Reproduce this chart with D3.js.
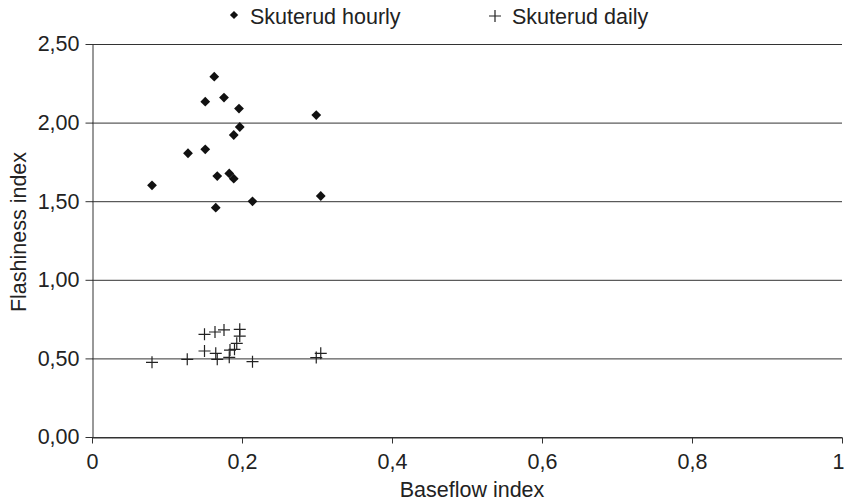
<!DOCTYPE html>
<html>
<head>
<meta charset="utf-8">
<script src="https://cdn.jsdelivr.net/npm/d3@7"></script>
<style>
  body { margin: 0; background: #fff; }
  text { font-family: "Liberation Sans", Arial, sans-serif; fill: #222; }
</style>
</head>
<body>
<div id="chart"></div>
<script>
// Skuterud: flashiness vs baseflow index

var seriesNames = ["Skuterud hourly", "Skuterud daily"];

// hourly values
var hourlyBfi = [0.080, 0.128, 0.151, 0.151, 0.163, 0.165, 0.167, 0.176, 0.183, 0.189, 0.189, 0.196, 0.197, 0.214, 0.299, 0.305];
var hourlyFi  = [1.601, 1.805, 2.133, 1.830, 2.292, 1.459, 1.660, 2.159, 1.677, 1.921, 1.643, 2.089, 1.972, 1.499, 2.048, 1.533];

// daily values
var dailyBfi = [0.080, 0.127, 0.150, 0.150, 0.164, 0.165, 0.167, 0.176, 0.183, 0.184, 0.190, 0.193, 0.197, 0.197, 0.214, 0.299, 0.305];
var dailyFi  = [0.475, 0.494, 0.653, 0.547, 0.668, 0.532, 0.494, 0.681, 0.507, 0.553, 0.558, 0.596, 0.685, 0.642, 0.479, 0.505, 0.532];

var xTicks = [0, 0.2, 0.4, 0.6, 0.8, 1];
var yTicks = [0, 0.5, 1, 1.5, 2, 2.5];

var svgWidth = 844, svgHeight = 504;
var margin = {top: 44, right: 2, bottom: 67, left: 92};
var width = svgWidth - margin.left - margin.right;
var height = svgHeight - margin.top - margin.bottom;
var fontSize = 21.5;

var svg = d3.select("#chart").append("svg")
  .attr("width", svgWidth)
  .attr("height", svgHeight);

var chartGroup = svg.append("g")
  .attr("transform", `translate(${margin.left}, ${margin.top})`);

var x = d3.scaleLinear().domain([0, 1]).range([0, width]);
var y = d3.scaleLinear().domain([0, 2.5]).range([height, 0]);

var fmtY = function(d) { return d3.format(".2f")(d).replace(".", ","); };
var fmtX = function(d) { return d === 0 || d === 1 ? String(d) : String(d).replace(".", ","); };

// horizontal gridlines
chartGroup.append("g")
  .selectAll("line")
  .data(yTicks)
  .enter()
  .append("line")
  .attr("x1", 0)
  .attr("x2", width)
  .attr("y1", d => y(d) + 0.5)
  .attr("y2", d => y(d) + 0.5)
  .attr("stroke", "#333")
  .attr("stroke-width", 1);

// x axis
var xAxis = chartGroup.append("g")
  .attr("transform", `translate(0, ${height + 0.5})`)
  .call(d3.axisBottom(x).tickValues(xTicks).tickFormat(fmtX).tickSize(6).tickSizeOuter(0));
xAxis.selectAll("text").attr("font-size", fontSize).attr("dy", "1.05em");
// last label would be cut at the edge
xAxis.selectAll(".tick text").filter(d => d === 1).attr("text-anchor", "end").attr("dx", 2);

// y axis
var yAxis = chartGroup.append("g")
  .attr("transform", "translate(0.5, 0)")
  .call(d3.axisLeft(y).tickValues(yTicks).tickFormat(fmtY).tickSize(7).tickSizeOuter(0));
yAxis.selectAll("text").attr("font-size", fontSize).attr("dx", -3);

svg.selectAll(".domain, .tick line").attr("stroke", "#333");

// hourly diamonds
var diamond = d3.symbol().type(d3.symbolSquare).size(48);
chartGroup.append("g")
  .selectAll("path")
  .data(hourlyBfi)
  .enter()
  .append("path")
  .attr("d", diamond)
  .attr("transform", (d, i) => `translate(${x(d)}, ${y(hourlyFi[i])}) rotate(45)`)
  .attr("fill", "#111");

// daily crosses
chartGroup.append("g")
  .selectAll("path")
  .data(dailyBfi)
  .enter()
  .append("path")
  .attr("d", "M-6,0H6M0,-6V6")
  .attr("transform", (d, i) => `translate(${x(d)}, ${y(dailyFi[i])})`)
  .attr("stroke", "#222")
  .attr("stroke-width", 1.2)
  .attr("fill", "none");

// axis titles
svg.append("text")
  .attr("x", 472)
  .attr("y", 497)
  .attr("text-anchor", "middle")
  .attr("font-size", fontSize)
  .text("Baseflow index");

svg.append("text")
  .attr("transform", "translate(26, 232) rotate(-90)")
  .attr("text-anchor", "middle")
  .attr("font-size", fontSize)
  .text("Flashiness index");

// legend
var legend = svg.append("g");
legend.append("path")
  .attr("d", d3.symbol().type(d3.symbolSquare).size(34))
  .attr("transform", "translate(234, 15) rotate(45)")
  .attr("fill", "#111");
legend.append("text")
  .attr("x", 250).attr("y", 24)
  .attr("font-size", fontSize)
  .text(seriesNames[0]);
legend.append("path")
  .attr("d", "M-6,0H6M0,-6V6")
  .attr("transform", "translate(495, 16)")
  .attr("stroke", "#222")
  .attr("stroke-width", 1.2);
legend.append("text")
  .attr("x", 512).attr("y", 24)
  .attr("font-size", fontSize)
  .text(seriesNames[1]);
</script>
</body>
</html>
